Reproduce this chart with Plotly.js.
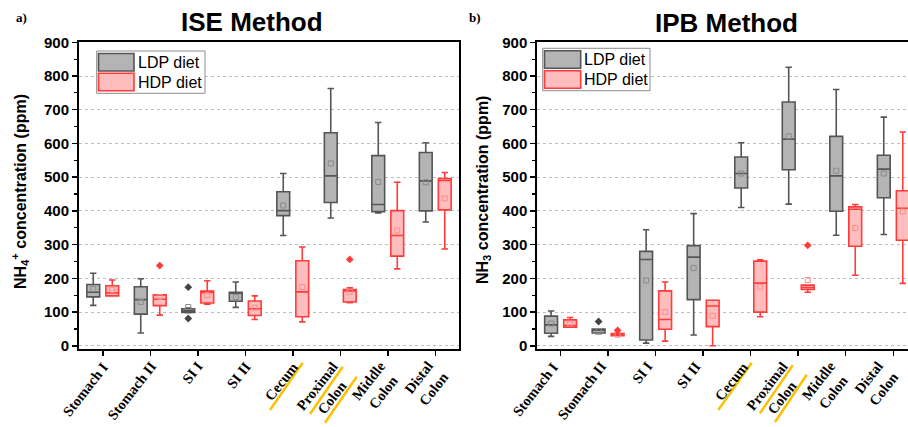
<!DOCTYPE html>
<html><head><meta charset="utf-8">
<script src="https://cdn.plot.ly/plotly-3.0.1.min.js"></script>
<style>html,body{margin:0;padding:0;background:#fff}</style>
</head><body><div id="chart" style="width:908px;height:427px"></div>
<script>
// ---------------- DATA ----------------
const categories = ["Stomach I","Stomach II","SI I","SI II","Cecum","Proximal<br>Colon","Middle<br>Colon","Distal<br>Colon"];
const seriesNames = ["LDP diet","HDP diet"];

// ISE method (NH4+ ppm) - LDP diet
const iseLdpLow  = [120, 38, 98, 114, 327, 379, 394, 367];
const iseLdpQ1   = [145, 94, 99, 132, 386, 425, 398, 400];
const iseLdpMed  = [159, 137, 104, 156, 401, 504, 419, 489];
const iseLdpQ3   = [182, 175, 110, 159, 457, 632, 564, 573];
const iseLdpHigh = [215, 199, 112, 189, 511, 763, 662, 602];
const iseLdpMean = [169, 130, 115, 145, 416, 541, 486, 485];
const iseLdpOutCat = ["SI I","SI I"];
const iseLdpOutVal = [174, 81];

// ISE method - HDP diet
const iseHdpLow  = [148, 91, 123, 78, 71, 128, 228, 287];
const iseHdpQ1   = [148, 119, 127, 90, 86, 130, 266, 403];
const iseHdpMed  = [157, 138, 158, 110, 160, 163, 327, 490];
const iseHdpQ3   = [178, 151, 162, 133, 252, 167, 401, 496];
const iseHdpHigh = [195, 151, 193, 148, 293, 172, 485, 514];
const iseHdpMean = [166, 145, 150, 113, 174, 160, 342, 437];
const iseHdpOutCat = ["Stomach II","Proximal<br>Colon"];
const iseHdpOutVal = [238, 256];

// IPB method (NH3 ppm) - LDP diet
const ipbLdpLow  = [28, 36, 8, 32, 410, 420, 328, 330];
const ipbLdpQ1   = [37, 38, 17, 137, 468, 522, 399, 439];
const ipbLdpMed  = [62, 46, 256, 263, 511, 613, 504, 524];
const ipbLdpQ3   = [88, 50, 280, 297, 560, 723, 621, 565];
const ipbLdpHigh = [103, 50, 344, 392, 602, 826, 760, 678];
const ipbLdpMean = [66, 44, 194, 231, 511, 621, 519, 511];
const ipbLdpOutCat = ["Stomach II"];
const ipbLdpOutVal = [72];

// IPB method - HDP diet
const ipbHdpLow  = [55, 30, 14, 0, 86, 159, 209, 185];
const ipbHdpQ1   = [55, 30, 49, 57, 100, 167, 295, 313];
const ipbHdpMed  = [60, 33, 78, 118, 186, 173, 405, 408];
const ipbHdpQ3   = [77, 36, 163, 135, 251, 180, 412, 460];
const ipbHdpHigh = [84, 38, 189, 135, 255, 180, 419, 634];
const ipbHdpMean = [66, 33, 100, 89, 175, 195, 349, 398];
const ipbHdpOutCat = ["Stomach II","Proximal<br>Colon"];
const ipbHdpOutVal = [46, 298];

// ---------------- STYLE ----------------
const SANS = "Liberation Sans, Arial, sans-serif";
const SERIF = "Liberation Serif, Times New Roman, serif";
const style = {
  LDP: {fill: "#b4b4b4", line: "#555555", mean: "#8a8a8a", out: "#444444", off: -0.2},
  HDP: {fill: "#ffbdbd", line: "#ff3b3b", mean: "#ff8a8a", out: "#ff3b3b", off: 0.2}
};
const idx = categories.map((c, i) => i);
const catIndex = name => categories.indexOf(name);

const traces = [];
function addSeries(key, xa, ya, low, q1, med, q3, high, mean, outCat, outVal) {
  const s = style[key];
  const xs = idx.map(i => i + s.off);
  traces.push({
    type: "box", xaxis: xa, yaxis: ya, x: xs,
    q1: q1, median: med, q3: q3, lowerfence: low, upperfence: high,
    width: 0.27, whiskerwidth: 0.5, boxpoints: false,
    fillcolor: s.fill, line: {color: s.line, width: 1.6},
    showlegend: false, hoverinfo: "y"
  });
  traces.push({
    type: "scatter", mode: "markers", xaxis: xa, yaxis: ya,
    x: xs, y: mean,
    marker: {symbol: "square-open", size: 5, color: s.mean, line: {width: 1}},
    showlegend: false, hoverinfo: "y"
  });
  traces.push({
    type: "scatter", mode: "markers", xaxis: xa, yaxis: ya,
    x: outCat.map(c => catIndex(c) + s.off), y: outVal,
    marker: {symbol: "diamond", size: 6, color: s.out},
    showlegend: false, hoverinfo: "y"
  });
}
addSeries("LDP", "x", "y", iseLdpLow, iseLdpQ1, iseLdpMed, iseLdpQ3, iseLdpHigh, iseLdpMean, iseLdpOutCat, iseLdpOutVal);
addSeries("HDP", "x", "y", iseHdpLow, iseHdpQ1, iseHdpMed, iseHdpQ3, iseHdpHigh, iseHdpMean, iseHdpOutCat, iseHdpOutVal);
addSeries("LDP", "x2", "y2", ipbLdpLow, ipbLdpQ1, ipbLdpMed, ipbLdpQ3, ipbLdpHigh, ipbLdpMean, ipbLdpOutCat, ipbLdpOutVal);
addSeries("HDP", "x2", "y2", ipbHdpLow, ipbHdpQ1, ipbHdpMed, ipbHdpQ3, ipbHdpHigh, ipbHdpMean, ipbHdpOutCat, ipbHdpOutVal);

const W = 908, H = 427;
const px = v => v / W, py = v => 1 - v / H;

function xAxis(domain, range, anchor) {
  return {
    domain: domain, range: range, anchor: anchor, type: "linear",
    tickmode: "array", tickvals: idx, ticktext: categories, showticklabels: false,
    ticks: "outside", ticklen: 5, tickwidth: 1.5, tickcolor: "#000",
    showline: true, linewidth: 2, linecolor: "#000", mirror: true,
    showgrid: false, zeroline: false, fixedrange: true
  };
}
function yAxis(anchor, mirror) {
  return {
    domain: [py(348.5), py(42.3)], range: [-8, 900], anchor: anchor,
    tick0: 0, dtick: 100,
    tickfont: {family: SANS, size: 15, weight: "bold", color: "#000"},
    ticks: "outside", ticklen: 5, tickwidth: 1.5, tickcolor: "#000",
    minor: {ticks: "outside", ticklen: 3, tickwidth: 1.2, dtick: 50, tickcolor: "#000", showgrid: false},
    showline: true, linewidth: 2, linecolor: "#000", mirror: mirror,
    showgrid: true, gridcolor: "#bdbdbd", griddash: "dot", gridwidth: 1,
    zeroline: false, fixedrange: true
  };
}

const shapes = [];
const annotations = [];
function legendBox(x0, y0, x1, y1, sx0, sx1, gy0, gy1, hy0, hy1, tx) {
  shapes.push({type: "rect", xref: "paper", yref: "paper", x0: px(x0), x1: px(x1), y0: py(y1), y1: py(y0),
    line: {color: "#8c8c8c", width: 1}, fillcolor: "#ffffff"});
  shapes.push({type: "rect", xref: "paper", yref: "paper", x0: px(sx0), x1: px(sx1), y0: py(gy1), y1: py(gy0),
    line: {color: style.LDP.line, width: 1.6}, fillcolor: style.LDP.fill});
  shapes.push({type: "rect", xref: "paper", yref: "paper", x0: px(sx0), x1: px(sx1), y0: py(hy1), y1: py(hy0),
    line: {color: style.HDP.line, width: 1.6}, fillcolor: style.HDP.fill});
  annotations.push({xref: "paper", yref: "paper", x: px(tx), y: py((gy0 + gy1) / 2), xanchor: "left", yanchor: "middle",
    text: seriesNames[0], showarrow: false, font: {family: SANS, size: 16, color: "#000"}});
  annotations.push({xref: "paper", yref: "paper", x: px(tx), y: py((hy0 + hy1) / 2), xanchor: "left", yanchor: "middle",
    text: seriesNames[1], showarrow: false, font: {family: SANS, size: 16, color: "#000"}});
}
legendBox(96.7, 51, 205, 93.3, 98.5, 134, 53.5, 71, 73.3, 90.7, 136);
legendBox(542.7, 48.3, 650, 90.7, 544.5, 580.7, 50.7, 68.3, 70.7, 88.3, 582);

// rotated category labels (placed at the axis category positions)
const LABEL_SIZE = 14.5, LABEL_ANGLE = 52;
const lineShift = 0.5 * 1.3 * LABEL_SIZE * Math.sin(LABEL_ANGLE * Math.PI / 180);
[["x", 10], ["x2", 2]].forEach(([xr, base]) => {
  categories.forEach((c, i) => {
    const nLines = c.split("<br>").length;
    annotations.push({
      xref: xr, yref: "paper", x: i, y: py(357), xanchor: "right", yanchor: "top",
      xshift: base + (nLines - 1) * lineShift, text: c, textangle: -LABEL_ANGLE, align: "center",
      showarrow: false, borderpad: 0, font: {family: SERIF, size: LABEL_SIZE, weight: "bold", color: "#000"}
    });
  });
});

// orange underline strokes
const strokes = [
  [270, 410, 302.7, 362.7], [310, 414, 342.7, 366.7], [325, 422.7, 356.7, 376.7],
  [718.3, 410, 751.7, 362.7], [760, 413.3, 792.7, 365.3], [775, 422, 806.7, 374.7]
];
strokes.forEach(s => shapes.push({type: "line", xref: "paper", yref: "paper",
  x0: px(s[0]), y0: py(s[1]), x1: px(s[2]), y1: py(s[3]), line: {color: "#ffc000", width: 2.5}}));

function txt(x, y, text, font, extra) {
  annotations.push(Object.assign({xref: "paper", yref: "paper", x: px(x), y: py(y), text: text,
    showarrow: false, xanchor: "center", yanchor: "middle", font: font}, extra || {}));
}
txt(252, 22, "ISE Method", {family: SANS, size: 26, weight: "bold", color: "#000"});
txt(726, 23, "IPB Method", {family: SANS, size: 26, weight: "bold", color: "#000"});
txt(21, 17, "a)", {family: SERIF, size: 13, weight: "bold", color: "#000"});
txt(475, 17, "b)", {family: SERIF, size: 13, weight: "bold", color: "#000"});
txt(20, 192, "NH<sub>4</sub><sup>+</sup> concentration (ppm)", {family: SANS, size: 16, weight: "bold", color: "#000"}, {textangle: -90});
txt(483, 190, "NH<sub>3</sub> concentration (ppm)", {family: SANS, size: 16, weight: "bold", color: "#000"}, {textangle: -90});

const layout = {
  width: W, height: H, margin: {l: 0, r: 0, t: 0, b: 0},
  paper_bgcolor: "#fff", plot_bgcolor: "#fff", showlegend: false,
  boxmode: "overlay",
  xaxis: xAxis([px(79), px(459)], [-0.5, 7.5], "y"),
  yaxis: yAxis("x", true),
  xaxis2: xAxis([px(537.3), 1], [-0.49, 7.31], "y2"),
  yaxis2: yAxis("x2", false),
  shapes: shapes, annotations: annotations
};
Plotly.newPlot("chart", traces, layout, {staticPlot: true, displayModeBar: false});
</script></body></html>
